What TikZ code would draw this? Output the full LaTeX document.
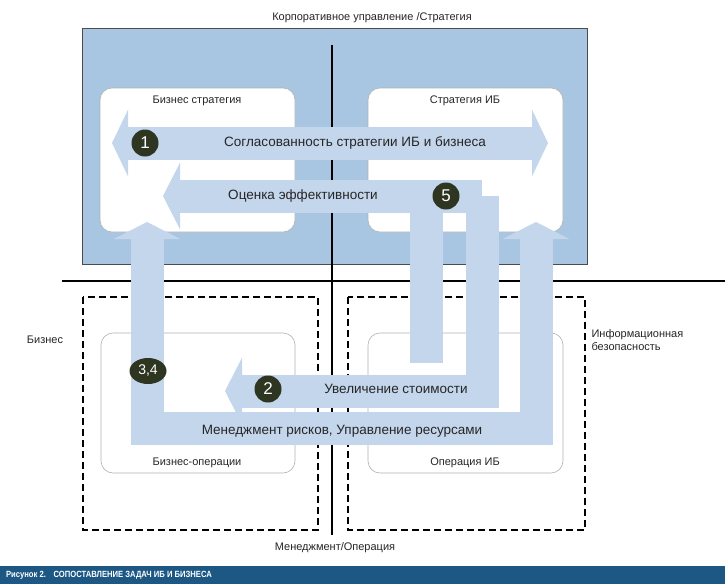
\documentclass[tikz,border=0pt]{standalone}
\usepackage{fontspec}
\setmainfont{Liberation Sans}
\usetikzlibrary{arrows.meta,shapes.geometric}
\definecolor{arr}{HTML}{C3D6EB}
\definecolor{blu}{HTML}{A8C6E1}
\definecolor{dk}{HTML}{2E3621}
\definecolor{capblue}{HTML}{1D5783}
\begin{document}
\begin{tikzpicture}[x=1pt,y=-1pt,
  wbox/.style={draw=gray!60,fill=white,rounded corners=12pt,line width=0.6pt},
  dbox/.style={draw=black,dashed,dash pattern=on 7pt off 4pt,line width=1.3pt},
  big/.style={draw=arr,line width=33pt,line join=miter},
  hd/.style={-{Triangle[length=17pt,width=66pt]}},
  num/.style={circle,fill=dk,text=white,inner sep=0pt,minimum size=27pt,font=\fontsize{17}{17}\selectfont},
  lab/.style={font=\fontsize{13.5}{15}\selectfont,text=black!85},
  sm/.style={font=\fontsize{11}{13}\selectfont,text=black!85}]
\useasboundingbox (0,0) rectangle (725,584);
\fill[white] (0,0) rectangle (725,584);
\node[sm] (top) at (372,18) {Корпоративное управление /Стратегия};
\draw[fill=blu,draw=black!70,line width=0.8pt] (82,28) rectangle (587,264);
\coordinate (v1) at (332,45); \coordinate (v2) at (332,535);
\coordinate (h1) at (62,281); \coordinate (h2) at (725,281);
\draw[line width=1.3pt] (v1)--(v2);
\draw[line width=1.3pt] (h1)--(h2);
\draw[dbox] (83,297) rectangle (318,530);
\draw[dbox] (348,297) rectangle (585,530);
\draw[wbox] (100,88) rectangle (295,232);
\draw[wbox] (368,88) rectangle (563,232);
\draw[wbox] (101,333) rectangle (295,473);
\draw[wbox] (368,333) rectangle (563,473);
\node[sm] (bs) at (197,101) {Бизнес стратегия};
\node[sm] (si) at (465,101) {Стратегия ИБ};
\node[sm] (bo) at (197,463) {Бизнес-операции};
\node[sm] (oi) at (465,463) {Операция ИБ};
\node[sm] (biz) at (45,340) {Бизнес};
\node[sm,align=left,anchor=north west] (ib) at (588,326) {Информационная\\безопасность};
\node[sm] (mo) at (335,548) {Менеджмент/Операция};
% arrows
\coordinate (a1l) at (112,143); \coordinate (a1r) at (548,143);
\draw[big,{Triangle[length=16pt,width=66pt]}-{Triangle[length=16pt,width=66pt]}] (a1l)--(a1r);
\coordinate (p5a) at (426,363); \coordinate (p5b) at (426,196); \coordinate (p5c) at (163,196);
\draw[big,hd] (p5a)--(p5b)--(p5c);
\coordinate (p2a) at (482,196); \coordinate (p2b) at (482,391); \coordinate (p2c) at (225,391);
\draw[big] (p5b)--(p2a);
\draw[big,hd] (p2a)--(p2b)--(p2c);
\coordinate (p3a) at (147,222); \coordinate (p3b) at (147,428); \coordinate (p3c) at (536,428); \coordinate (p3d) at (536,222);
\draw[big,{Triangle[length=17pt,width=66pt]}-{Triangle[length=17pt,width=66pt]}] (p3a)--(p3b)--(p3c)--(p3d);
% labels
\node[lab] (t1) at (355,143) {Согласованность стратегии ИБ и бизнеса};
\node[lab] (t5) at (303,196) {Оценка эффективности};
\node[lab] (t2) at (396,389) {Увеличение стоимости};
\node[lab] (t3) at (342,431) {Менеджмент рисков, Управление ресурсами};
\node[num] (n1) at (145,143) {1};
\node[num] (n5) at (446,196) {5};
\node[num] (n2) at (268,389) {2};
\node[ellipse,fill=dk,text=white,inner sep=0pt,minimum width=37pt,minimum height=26pt,font=\fontsize{14}{14}\selectfont] (n34) at (148,371) {3,4};
\fill[capblue] (0,566) rectangle (725,584);
\node[anchor=west,text=white,font=\bfseries\fontsize{9}{10}\selectfont,xscale=0.85] (capt) at (3,575) {Рисунок 2.\quad СОПОСТАВЛЕНИЕ ЗАДАЧ ИБ И БИЗНЕСА};
\end{tikzpicture}
\end{document}
